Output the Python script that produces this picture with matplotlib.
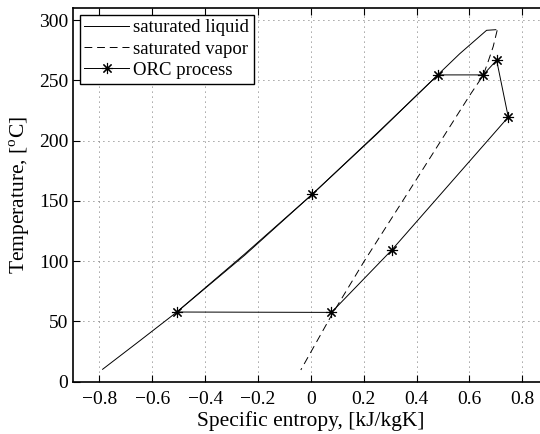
import numpy as np
import matplotlib
matplotlib.use("Agg")
from matplotlib import pyplot as plt

# saturated liquid line (s in kJ/kgK, T in degC)
liq_s = [-0.788, -0.65, -0.507, -0.25, 0.006, 0.25, 0.481, 0.563, 0.665, 0.70]
liq_T = [10.3, 33.5, 57.8, 105.0, 155.6, 205.5, 254.7, 272.0, 291.5, 292.0]

# saturated vapor line
vap_s = [0.705, 0.69, 0.67, 0.652, 0.601, 0.40, 0.202, 0.078, -0.038]
vap_T = [291.5, 278.0, 265.0, 254.0, 237.5, 168.0, 100.0, 55.0, 9.75]

# ORC process states (closed cycle)
orc_s = [-0.507, -0.25, 0.006, 0.25, 0.481, 0.652, 0.703, 0.747, 0.306, 0.078, -0.507]
orc_T = [57.8, 106.0, 155.6, 206.0, 254.5, 254.5, 266.7, 219.5, 109.2, 57.5, 57.8]
orc_marks = [0, 2, 4, 5, 6, 7, 8, 9]

plt.rcParams['font.family'] = ['Liberation Serif', 'DejaVu Serif']
plt.rcParams['mathtext.fontset'] = 'custom'
plt.rcParams['mathtext.rm'] = 'Liberation Serif'

fig = plt.figure(figsize=(5.4, 4.34), dpi=100)
ax = fig.add_axes([73/540, 1 - 381.7/434, (548.7 - 73)/540, (381.7 - 8)/434])

ax.plot(liq_s, liq_T, color='k', lw=0.7, label='saturated liquid')
ax.plot(vap_s, vap_T, color='k', lw=0.7, ls=(0, (8, 5)), label='saturated vapor')
ax.plot(orc_s, orc_T, color='k', lw=0.7, marker=(8, 2, 0), markersize=8,
        markeredgewidth=0.8, markevery=orc_marks, label='ORC process')

ax.set_xlim(-0.9, 0.9)
ax.set_ylim(0, 310)
ax.set_xticks(np.arange(-0.8, 0.81, 0.2))
ax.set_yticks(np.arange(0, 301, 50))
ax.set_xticklabels(['\u22120.8', '\u22120.6', '\u22120.4', '\u22120.2', '0', '0.2', '0.4', '0.6', '0.8'])
ax.tick_params(direction='in', top=True, right=True, labelsize=14, width=0.8, length=5)
ax.tick_params(axis='x', pad=7)
ax.grid(True, color='k', ls=(0, (1, 5)), lw=0.6, alpha=0.75)
for sp in ax.spines.values():
    sp.set_linewidth(1.2)

ax.set_xlabel('Specific entropy, [kJ/kgK]', fontsize=15.5, labelpad=2)
ax.set_ylabel(r'Temperature, [$^{\rm o}$C]', fontsize=15.5, labelpad=5)

leg = ax.legend(loc='upper left', fontsize=13.5, handlelength=2.4, handletextpad=0.2,
                borderaxespad=0.35, borderpad=0.25, labelspacing=0.22, fancybox=False,
                framealpha=1, edgecolor='k')
leg.get_frame().set_linewidth(1.0)

fig.savefig('out.png', dpi=100)
